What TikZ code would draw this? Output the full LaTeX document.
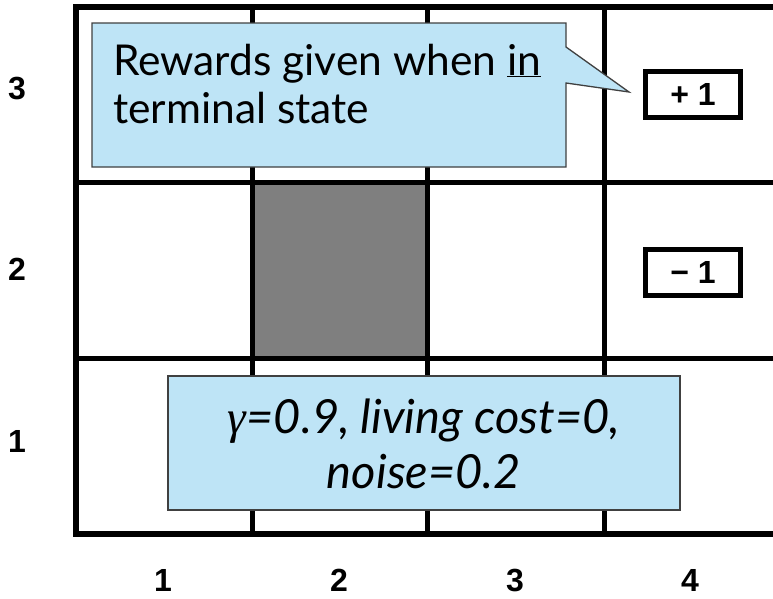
\documentclass[tikz,border=0pt]{standalone}
\usepackage{fontspec}
\setmainfont{Lato}
\newfontfamily\digitfont{Liberation Sans}
\newfontfamily\gammafont{Liberation Serif}
\definecolor{calloutfill}{RGB}{190,228,246}
\definecolor{calloutdraw}{RGB}{64,64,64}
\definecolor{wallgray}{RGB}{127,127,127}
\begin{document}
\begin{tikzpicture}[x=1pt,y=-1pt,
  gridline/.style={line width=5pt,line cap=rect},
  outerline/.style={line width=6pt,line cap=rect},
  callout/.style={fill=calloutfill,draw=calloutdraw,line width=1.3pt,line join=miter},
  axislabel/.style={font=\digitfont\bfseries\fontsize{32}{32}\selectfont,inner sep=0pt},
  rewardbox/.style={draw=black,line width=5pt,minimum width=95pt,minimum height=46pt,inner sep=0pt,
     font=\digitfont\bfseries\fontsize{32}{32}\selectfont},
  bodytext/.style={inner sep=0pt}]
\useasboundingbox (0,0) rectangle (773,598);
\clip (0,0) rectangle (773,598);
% blocked cell
\fill[wallgray] (252,182.5) rectangle (427,358);
% grid
\draw[gridline] (252,6.5) -- (252,534);
\draw[gridline] (427,6.5) -- (427,534);
\draw[gridline] (604.5,6.5) -- (604.5,534);
\draw[gridline] (76,182.5) -- (790,182.5);
\draw[gridline] (76,358) -- (790,358);
\draw[outerline] (790,6.5) -- (76,6.5) -- (76,534) -- (790,534);
% reward boxes
\node[rewardbox] (plus) at (693,94.5) {+ 1};
\node[rewardbox] (minus) at (693,272.5) {− 1};
% callout 1
\coordinate (tip) at (629,92);
\draw[callout] (92,23) -- (566,23) -- (566,47) -- (tip) -- (566,83) -- (566,167) -- (92,167) -- cycle;
\node[bodytext,anchor=base west,align=left,font=\fontsize{42.5}{48}\selectfont] (rewardtext) at (113,123)
  {Rewards given when \underline{in}\\terminal state};
% callout 2
\draw[callout] (168,376) rectangle (680,510);
\node[bodytext,anchor=base,align=center,font=\itshape\fontsize{47}{55}\selectfont] (paramtext) at (424,488)
  {{\gammafont γ}=0.9, living cost=0,\\noise=0.2};
% axis labels
\node[axislabel] (r3) at (17,89) {3};
\node[axislabel] (r2) at (17,269) {2};
\node[axislabel] (r1) at (17,441) {1};
\node[axislabel] (c1) at (163,580) {1};
\node[axislabel] (c2) at (339,580) {2};
\node[axislabel] (c3) at (515,580) {3};
\node[axislabel] (c4) at (690,580) {4};
\end{tikzpicture}
\end{document}
